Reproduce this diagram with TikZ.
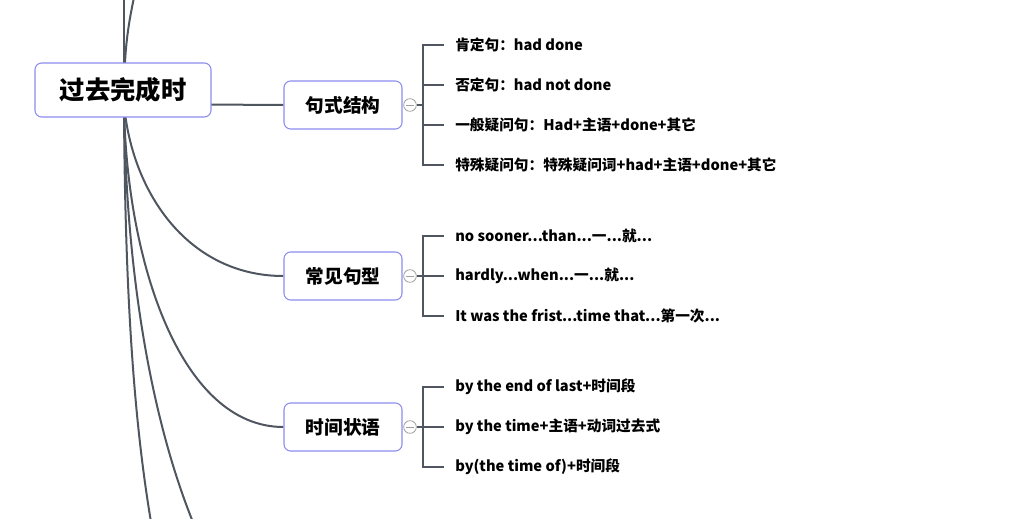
\documentclass[tikz,border=0pt]{standalone}
\usepackage{fontspec}
\setmainfont{Noto Sans CJK SC}
\usetikzlibrary{backgrounds}
\definecolor{linegray}{RGB}{80,86,96}
\definecolor{boxblue}{RGB}{140,140,240}
\definecolor{btngray}{RGB}{160,160,160}

\tikzset{
  rootbox/.style={draw=boxblue, fill=white, rounded corners=5pt, line width=0.8pt, minimum width=132pt, minimum height=40.5pt, inner sep=0pt, font=\fontsize{19}{22}\selectfont\bfseries},
  topicbox/.style={draw=boxblue, fill=white, rounded corners=5pt, line width=0.8pt, minimum width=88.5pt, minimum height=36pt, inner sep=0pt, font=\fontsize{14}{16}\selectfont\bfseries},
  leaf/.style={anchor=west, inner sep=0.75pt, font=\fontsize{11}{13}\selectfont\bfseries},
  branch/.style={draw=linegray, line width=1.5pt},
  fold/.style={circle, draw=btngray, fill=white, line width=0.6pt, minimum size=9.5pt, inner sep=0pt},
}

\begin{document}
\begin{tikzpicture}[x=0.75pt,y=0.75pt,yscale=-1,xscale=1]
\useasboundingbox (0,0) rectangle (1024,518);

% Root
\node[rootbox] (root) at (123,90) {过去完成时};
\coordinate (hub) at (124,104);

% Topics
\node[topicbox] (t1) at (343,105) {句式结构};
\node[topicbox] (t2) at (343,276) {常见句型};
\node[topicbox] (t3) at (343,427) {时间状语};

% Fold buttons
\node[fold] (f1) at (410,105) {};
\node[fold] (f2) at (410,276) {};
\node[fold] (f3) at (410,427) {};

% Text Node
\node[leaf] (l11) at (454,45)  {肯定句：had done};
\node[leaf] (l12) at (454,85)  {否定句：had not done};
\node[leaf] (l13) at (454,125) {一般疑问句：Had+主语+done+其它};
\node[leaf] (l14) at (454,165) {特殊疑问句：特殊疑问词+had+主语+done+其它};
% Text Node
\node[leaf] (l21) at (454,236) {no sooner...than...一...就...};
\node[leaf] (l22) at (454,276) {hardly...when...一...就...};
\node[leaf] (l23) at (454,316) {It was the frist...time that...第一次...};
% Text Node
\node[leaf] (l31) at (454,387) {by the end of last+时间段};
\node[leaf] (l32) at (454,427) {by the time+主语+动词过去式};
\node[leaf] (l33) at (454,467) {by(the time of)+时间段};

% bracket corners
\coordinate (b1) at (423,105);
\coordinate (b2) at (423,276);
\coordinate (b3) at (423,427);

% free ends off the page
\coordinate (up1) at (124,-10);
\coordinate (up2) at (140,-30);
\coordinate (dn1) at (158,560);
\coordinate (dn2) at (210,560);

\begin{scope}[on background layer]
\clip (0,0) rectangle (1024,518);
% main branches
\draw[branch] (hub) -- (up1);
\draw[branch] (hub) .. controls (124,40) and (129,20) .. (up2);
\draw[branch] (hub) -- (t1.west);
\draw[branch] (hub) .. controls (132,195) and (190,276) .. (t2.west);
\draw[branch] (hub) .. controls (126,260) and (180,427) .. (t3.west);
\draw[branch] (hub) .. controls (126,300) and (160,460) .. (dn2);
\draw[branch] (hub) .. controls (125,330) and (138,460) .. (dn1);
\end{scope}

% minus signs
\draw[btngray, line width=0.6pt] ([xshift=-3pt]f1.center) -- ([xshift=3pt]f1.center);
\draw[btngray, line width=0.6pt] ([xshift=-3pt]f2.center) -- ([xshift=3pt]f2.center);
\draw[btngray, line width=0.6pt] ([xshift=-3pt]f3.center) -- ([xshift=3pt]f3.center);

% brackets
\draw[branch] (f1.east) -- (b1);
\draw[branch] ([xshift=-7.5pt]l11.west) -| (b1) |- ([xshift=-7.5pt]l14.west);
\draw[branch] (b1 |- l12.west) -- ([xshift=-7.5pt]l12.west);
\draw[branch] (b1 |- l13.west) -- ([xshift=-7.5pt]l13.west);

\draw[branch] (f2.east) -- (b2);
\draw[branch] ([xshift=-7.5pt]l21.west) -| (b2) |- ([xshift=-7.5pt]l23.west);
\draw[branch] (b2) -- ([xshift=-7.5pt]l22.west);

\draw[branch] (f3.east) -- (b3);
\draw[branch] ([xshift=-7.5pt]l31.west) -| (b3) |- ([xshift=-7.5pt]l33.west);
\draw[branch] (b3) -- ([xshift=-7.5pt]l32.west);

\end{tikzpicture}
\end{document}
